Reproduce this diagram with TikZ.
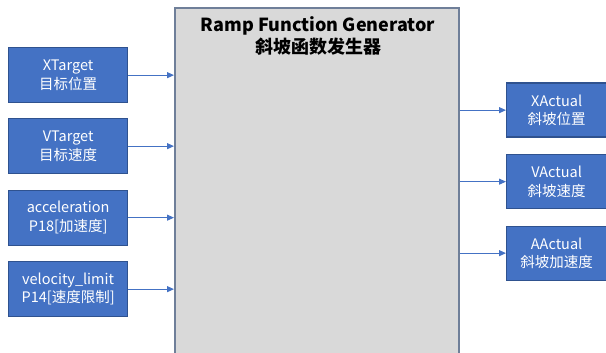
\documentclass[tikz,border=0pt]{standalone}
\usepackage{fontspec}
\setmainfont{Noto Sans CJK SC}
\usetikzlibrary{arrows.meta}
\definecolor{boxblue}{HTML}{4472C4}
\definecolor{boxedge}{HTML}{2F528F}
\definecolor{biggray}{HTML}{D9D9D9}
\definecolor{bigedge}{HTML}{6F7F99}
\tikzset{
  inbox/.style={draw=boxedge, line width=1.3pt, fill=boxblue, text=white,
    minimum width=119pt, minimum height=55pt, align=center, inner sep=0pt,
    font=\fontsize{14.5}{18.5}\selectfont, anchor=north west},
  outbox/.style={inbox, minimum width=100pt, minimum height=54pt},
  conn/.style={draw=boxblue, line width=1pt, -{Triangle[length=7pt,width=6pt]}}
}
\begin{document}
\begin{tikzpicture}[x=1pt,y=1pt]
\useasboundingbox (0,0) rectangle (606,-353);
\clip (0,0) rectangle (606,-353);
\node[draw=bigedge, line width=1.6pt, fill=biggray, minimum width=284pt, minimum height=370pt,
  anchor=north west, inner sep=0pt] (rfg) at (174,-7) {};
\node[font=\fontsize{18}{22}\selectfont\bfseries, align=center, anchor=north] (title) at (318,-13)
  {Ramp Function Generator\\斜坡函数发生器};
\node[inbox] (xt) at (8,-47) {XTarget\\目标位置};
\node[inbox] (vt) at (8,-118) {VTarget\\目标速度};
\node[inbox] (acc) at (8,-189.5) {acceleration\\P18[加速度]};
\node[inbox] (vl) at (8,-261) {velocity\_limit\\P14[速度限制]};
\node[outbox] (xa) at (506,-82.5) {XActual\\斜坡位置};
\node[outbox] (va) at (506,-154) {VActual\\斜坡速度};
\node[outbox] (aa) at (506,-225.5) {AActual\\斜坡加速度};
\foreach \n in {xt,vt,acc,vl} \draw[conn] (\n.east) -- (rfg.west |- \n.east);
\foreach \n in {xa,va,aa} \draw[conn] (rfg.east |- \n.west) -- (\n.west);
\end{tikzpicture}
\end{document}
